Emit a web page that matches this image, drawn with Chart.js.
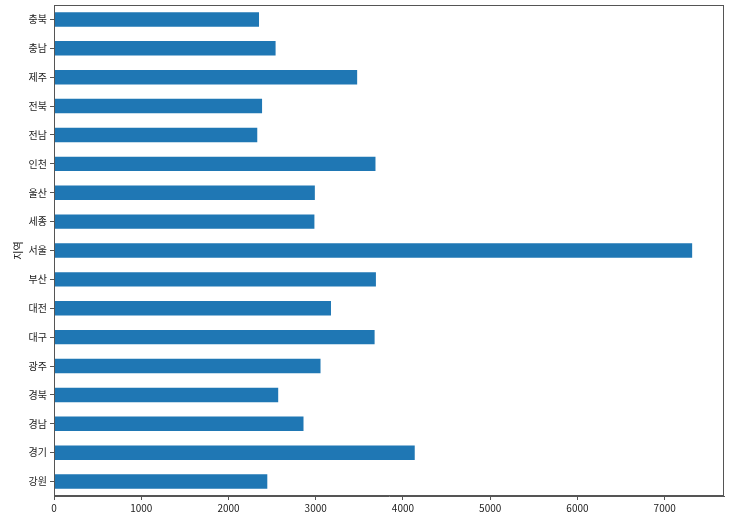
<!DOCTYPE html>
<html>
  <head>
    <meta charset="UTF-8" />
    <title>지역별 막대</title>
    <script src="https://cdn.jsdelivr.net/npm/chart.js@4/dist/chart.umd.min.js"></script>
    <style>
      body { margin: 0; background: #fff; }
    </style>
  </head>
  <body>
    <canvas id="chart" width="739" height="519"></canvas>
    <script>
      // categories, bottom to top as in the picture
      const regions = ['강원', '경기', '경남', '경북', '광주', '대구', '대전', '부산', '서울',
                       '세종', '울산', '인천', '전남', '전북', '제주', '충남', '충북'];
      const values = [2445, 4135, 2860, 2570, 3055, 3675, 3175, 3690, 7315,
                      2985, 2990, 3685, 2330, 2385, 3475, 2540, 2350];
      const xTicks = [0, 1000, 2000, 3000, 4000, 5000, 6000, 7000];

      const frameColor = '#555';
      const fontFamily = '"Noto Sans CJK KR", "Noto Sans", sans-serif';

      // matplotlib style box around the plot
      const frame = {
        id: 'frame',
        afterDatasetsDraw(chart) {
          const { ctx, chartArea: a } = chart;
          ctx.save();
          ctx.strokeStyle = frameColor;
          ctx.lineWidth = 1;
          ctx.strokeRect(a.left + 0.5, a.top + 0.5, a.right - a.left - 1, a.bottom - a.top - 1);
          ctx.restore();
        }
      };

      new Chart(document.getElementById('chart'), {
        type: 'bar',
        data: {
          labels: regions,
          datasets: [{
            data: values,
            backgroundColor: '#1f77b4',
            categoryPercentage: 1,
            barPercentage: 0.5
          }]
        },
        options: {
          indexAxis: 'y',
          responsive: false,
          animation: false,
          layout: { padding: { left: 0, top: 5, right: 15, bottom: 0 } },
          plugins: { legend: { display: false }, tooltip: { enabled: false } },
          scales: {
            x: {
              min: 0,
              max: 7680,
              afterBuildTicks: (s) => { s.ticks = xTicks.map(v => ({ value: v })); },
              afterFit: (s) => { s.height = 23; },
              grid: { drawOnChartArea: false, color: frameColor, tickLength: 4 },
              border: { color: frameColor },
              ticks: { color: '#222', padding: 2, font: { family: fontFamily, size: 10 }, callback: (v) => String(v) }
            },
            y: {
              reverse: true,
              // labels sit in the middle of their bands, so no extra room at the ends
              afterFit: (s) => { s.width = 54; s.paddingTop = 0; s.paddingBottom = 0; },
              grid: { drawOnChartArea: false, color: frameColor, tickLength: 4, offset: false },
              border: { color: frameColor },
              title: { display: true, text: '지역', color: '#222', padding: { top: 12, bottom: 0 }, font: { family: fontFamily, size: 10 } },
              ticks: { color: '#222', padding: 3, font: { family: fontFamily, size: 10 } }
            }
          }
        },
        plugins: [frame]
      });
    </script>
  </body>
</html>
